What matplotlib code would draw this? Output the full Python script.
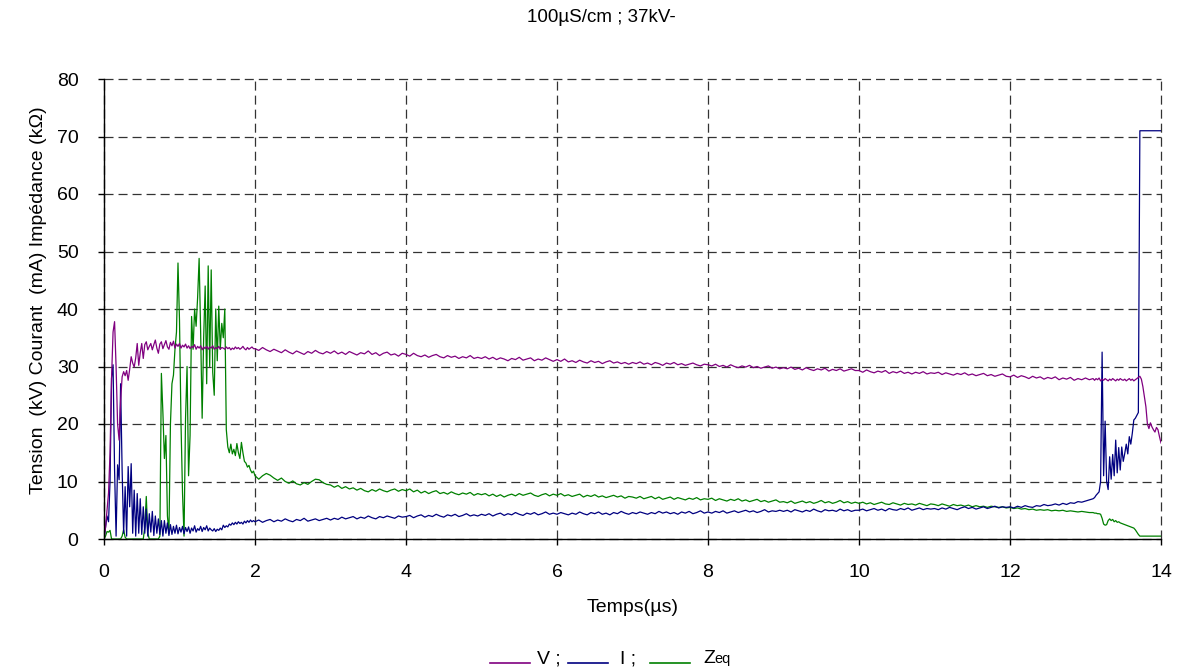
import numpy as np
import matplotlib
matplotlib.use("Agg")
import matplotlib.pyplot as plt
from matplotlib.lines import Line2D

plt.rcParams['font.family'] = ['Liberation Sans', 'DejaVu Sans']
plt.rcParams['lines.scale_dashes'] = False

# ---------------- data ----------------
# sampling grids (µs)
t_early = np.linspace(0.0, 1.98, 100)
t_late = np.linspace(2.0, 13.1, 223)
t_end = np.linspace(13.12, 14.0, 45)

v_early = [0, 2, 5, 8, 15, 28, 36, 37.8, 30, 20,
           17.2, 24, 28.2, 29.1, 28.4, 29.3, 27.6, 29.5, 31.7, 30.6,
           29.9, 31.5, 34.0, 30.2, 32.4, 34.0, 31.4, 33.8, 34.3, 32.9,
           33.5, 34.0, 32.9, 33.8, 34.6, 33.2, 32.3, 33.9, 34.3, 33.1,
           33.8, 34.5, 33.4, 33.0, 34.2, 33.6, 34.4, 33.2, 33.9, 33.5,
           34.0, 33.2, 33.7, 33.4, 33.9, 33.2, 33.6, 33.1, 33.5, 33.3,
           33.8, 33.0, 33.5, 33.2, 33.6, 32.9, 33.4, 33.1, 33.5, 33.0,
           33.4, 33.2, 33.6, 33.0, 33.3, 33.1, 33.5, 33.0, 33.3, 33.2,
           33.0, 33.4, 33.1, 33.3, 32.9, 33.2, 33.0, 33.4, 33.1, 33.3,
           33.0, 33.2, 33.5, 33.1, 32.9, 33.3, 33.0, 33.2, 33.4, 33.1]

i_early = [0, 2, 4, 3, 10, 28, 30.3, 12, 0.5, 12.9,
           10.3, 27, 12, 1, 9.1, 0.5, 12.6, 5.6, 13.1, 1,
           8.5, 0.5, 7.9, 1, 7, 0.8, 5.6, 1, 5.2, 0.5,
           4.4, 1.2, 4.8, 0.6, 4, 1, 3.5, 0.8, 3.2, 0.5,
           3.2, 1, 2.8, 0.6, 2.5, 0.8, 2.2, 1, 2.4, 0.9,
           2, 1.2, 2.2, 0.9, 2, 1.3, 2.1, 1, 1.9, 1.4,
           2.3, 1.2, 1.8, 1.5, 2.2, 1.3, 2, 1.6, 2.3, 1.4,
           1.9, 1.6, 1.4, 1.8, 1.3, 1.7, 1.5, 1.9, 1.6, 2.4,
           2.0, 2.3, 2.1, 2.6, 2.4, 2.8, 2.5, 2.9, 2.6, 3.0,
           2.7, 2.9, 2.6, 3.1, 2.8, 3.2, 2.9, 3.3, 3.0, 3.2]

z_early = [0, 0.5, 1.3, 1.2, 1.5, 0, 0, 0, 0, 0,
           0, 0, 0.5, 1.6, 0.3, 0, 0, 0, 0, 0,
           0, 0, 0, 0, 0, 0, 0, 2, 7.4, 1,
           0, 0, 0, 0, 0, 0, 0, 0.5, 28.8, 22,
           14, 18, 4, 1, 20, 27, 28.5, 33, 36, 48,
           38, 20, 8, 0.5, 21, 30, 11, 18, 38.7, 33,
           40, 37, 42, 48.8, 36, 21, 35, 44, 27, 47.5,
           30, 46.8, 29, 25, 40, 31, 40.5, 33, 37.5, 35,
           40, 19, 16, 15, 16.5, 14.8, 15.6, 14.5, 16.6, 15,
           14, 16.8, 15, 13.5, 13.2, 12.5, 12.8, 12, 11.5, 11.8]

v_late = [33.1, 32.8, 33.3, 32.9, 32.6, 33.0, 32.7, 32.4, 32.9, 32.5, 32.2, 32.7, 32.4, 32.1, 32.6, 32.3, 32.8, 32.4, 32.2, 32.6,
          32.3, 32.7, 32.2, 32.5, 32.1, 32.6, 32.3, 32.0, 32.4, 32.2, 32.7, 32.1, 32.4, 31.9, 32.3, 32.5, 32.0, 32.2, 31.8, 32.3,
          32.1, 31.8, 32.3, 31.9, 31.7, 32.0, 31.6, 31.9, 32.1, 31.7, 31.5, 31.9, 31.6, 31.8, 31.4, 31.7, 31.5, 31.9, 31.4, 31.6,
          31.4, 31.7, 31.3, 31.6, 31.2, 31.5, 31.3, 31.0, 31.4, 31.2, 31.6, 31.1, 31.3, 31.5, 31.0, 31.3, 31.1, 31.5, 31.2, 30.9,
          31.2, 30.9, 31.3, 30.8, 31.0, 30.7, 31.1, 30.8, 30.6, 31.0, 30.7, 30.9, 30.5, 30.8, 31.0, 30.6, 30.8, 30.5, 30.7, 30.4,
          30.7, 30.5, 30.8, 30.4, 30.6, 30.3, 30.7, 30.5, 30.2, 30.6, 30.4, 30.7, 30.3, 30.5, 30.2, 30.4, 30.6, 30.3, 30.1, 30.4,
          30.3, 30.1, 30.4, 30.0, 30.2, 29.9, 30.3, 30.0, 29.8, 30.1, 29.9, 30.2, 29.8, 30.0, 29.7, 29.9, 30.1, 29.7, 29.9, 29.6,
          29.8, 29.6, 29.9, 29.5, 29.7, 29.4, 29.8, 29.5, 29.3, 29.6, 29.4, 29.7, 29.2, 29.5, 29.3, 29.6, 29.2, 29.4, 29.6, 29.3,
          29.3, 29.0, 29.4, 29.1, 28.9, 29.2, 29.0, 29.3, 28.8, 29.1, 28.9, 29.2, 28.8, 29.0, 28.7, 29.0, 28.8, 29.1, 28.7, 28.9,
          28.8, 29.0, 28.6, 28.9, 28.7, 28.5, 28.8, 28.6, 28.9, 28.5, 28.7, 28.4, 28.6, 28.8, 28.4, 28.6, 28.3, 28.5, 28.7, 28.3,
          28.2, 28.5, 28.1, 28.4, 28.2, 27.9, 28.3, 28.0, 28.2, 27.8, 28.1, 27.9, 28.2, 27.7, 28.0, 27.8, 28.1, 27.6, 27.9, 27.7,
          28.0, 27.7, 27.9]

i_late = [3.0, 3.3, 2.9, 3.2, 3.4, 3.0, 3.3, 3.1, 3.5, 3.2, 3.0, 3.4, 3.2, 3.6, 3.1, 3.3, 3.5, 3.2, 3.4, 3.6,
          3.3, 3.6, 3.4, 3.8, 3.5, 3.7, 3.9, 3.5, 3.8, 3.6, 4.0, 3.7, 3.5, 3.9, 3.7, 4.0, 3.8, 3.6, 4.0, 3.8,
          3.9, 4.1, 3.7, 4.0, 4.2, 3.8, 4.1, 3.9, 4.3, 4.0, 3.8, 4.2, 4.0, 4.3, 3.9, 4.1, 4.4, 4.0, 4.2, 4.0,
          4.3, 4.1, 4.4, 4.0, 4.3, 4.5, 4.1, 4.4, 4.2, 4.6, 4.3, 4.1, 4.5, 4.3, 4.6, 4.2, 4.4, 4.7, 4.3, 4.5,
          4.3, 4.6, 4.4, 4.2, 4.5, 4.3, 4.7, 4.4, 4.2, 4.6, 4.4, 4.7, 4.3, 4.5, 4.2, 4.6, 4.4, 4.8, 4.5, 4.3,
          4.6, 4.4, 4.7, 4.5, 4.3, 4.6, 4.4, 4.8, 4.5, 4.7, 4.4, 4.6, 4.3, 4.7, 4.5, 4.8, 4.4, 4.6, 4.9, 4.5,
          4.7, 4.5, 4.8, 4.6, 4.9, 4.5, 4.7, 4.9, 4.6, 4.8, 5.0, 4.7, 4.9, 4.6, 4.8, 5.1, 4.7, 4.9, 4.8, 5.0,
          4.8, 5.0, 4.7, 5.1, 4.9, 4.7, 5.0, 4.8, 5.2, 4.9, 4.7, 5.1, 4.9, 5.0, 4.8, 5.2, 4.9, 5.1, 4.8, 5.0,
          5.0, 5.2, 4.9, 5.1, 5.3, 5.0, 5.2, 4.9, 5.3, 5.1, 5.0, 5.3, 5.1, 5.4, 5.0, 5.2, 5.4, 5.1, 5.3, 5.2,
          5.3, 5.1, 5.4, 5.2, 5.5, 5.3, 5.1, 5.4, 5.6, 5.3, 5.5, 5.2, 5.4, 5.6, 5.3, 5.5, 5.7, 5.4, 5.6, 5.5,
          5.6, 5.4, 5.7, 5.5, 5.8, 5.6, 5.5, 5.8, 5.7, 6.0, 5.8, 5.9, 6.1, 5.9, 6.2, 6.0, 6.3, 6.2, 6.5, 6.4,
          6.6, 6.8, 7.0]

z_late = [11.0, 10.4, 11.0, 11.4, 11.1, 10.6, 10.2, 10.6, 10.0, 9.7, 10.1, 9.6, 9.4, 9.8, 9.5, 10.0, 10.4, 10.3, 9.8, 9.5,
          9.4, 9.0, 9.3, 8.8, 9.1, 8.7, 8.9, 8.5, 8.8, 8.4, 8.2, 8.6, 8.3, 8.7, 8.4, 8.2, 8.5, 8.7, 8.3, 8.6,
          8.4, 8.7, 8.2, 8.5, 8.0, 8.3, 7.9, 8.2, 8.4, 7.9, 8.1, 7.8, 8.2, 7.9, 7.7, 8.0, 7.8, 8.1, 7.6, 7.9,
          7.7, 7.9, 7.5, 7.8, 7.4, 7.7, 7.3, 7.6, 7.8, 7.5, 7.9, 7.6, 7.8, 8.0, 7.6, 7.4, 7.7, 7.9, 7.5, 7.8,
          7.6, 7.9, 7.5, 7.7, 7.4, 7.6, 7.8, 7.3, 7.6, 7.4, 7.7, 7.3, 7.5, 7.2, 7.4, 7.6, 7.3, 7.5, 7.1, 7.4,
          7.3, 7.1, 7.4, 7.0, 7.2, 7.4, 7.0, 7.3, 6.9, 7.1, 7.3, 6.9, 7.2, 7.0, 6.8, 7.1, 6.9, 7.2, 6.8, 7.0,
          6.9, 7.1, 6.7, 7.0, 6.8, 6.6, 6.9, 6.7, 7.0, 6.6, 6.8, 6.5, 6.7, 6.9, 6.5, 6.7, 6.4, 6.6, 6.8, 6.4,
          6.5, 6.3, 6.6, 6.2, 6.4, 6.6, 6.3, 6.5, 6.2, 6.4, 6.7, 6.3, 6.5, 6.2, 6.4, 6.7, 6.3, 6.5, 6.2, 6.4,
          6.2, 6.4, 6.1, 6.3, 6.0, 6.2, 6.4, 6.1, 6.0, 6.3, 6.1, 5.9, 6.2, 6.0, 6.1, 5.9, 6.2, 6.0, 5.8, 6.1,
          6.0, 5.8, 6.1, 5.9, 5.7, 6.0, 5.8, 5.9, 5.7, 5.9, 5.6, 5.8, 5.6, 5.7, 5.5, 5.7, 5.6, 5.5, 5.6, 5.4,
          5.5, 5.3, 5.4, 5.2, 5.3, 5.1, 5.2, 5.0, 5.1, 5.0, 5.1, 4.9, 5.0, 4.9, 5.0, 4.8, 4.9, 4.8, 4.7, 4.8,
          4.7, 4.6, 4.6]

v_end = [27.6, 27.9, 27.7, 28.0, 27.5, 27.8, 27.6, 27.9, 27.7, 27.5,
         27.8, 27.6, 27.9, 27.7, 27.5, 27.8, 27.6, 27.9, 27.7, 27.6,
         27.8, 27.5, 27.7, 27.9, 27.6, 27.8, 27.5, 27.7, 27.9, 28.1,
         28.3, 27.8, 26.5, 24.8, 23.0, 20.0, 19.2, 20.2, 19.5, 19.0, 18.6, 19.4, 19.0, 17.8, 16.7]

i_end = [7.2, 7.6, 7.9, 8.2, 10.0, 32.5, 11.0, 20.5, 10.0, 8.6,
         14.3, 10.4, 14.7, 11.0, 17.2, 11.5, 15.9, 12.0, 16.0, 13.5,
         14.9, 16.5, 14.8, 17.8, 16.5, 18.4, 20.7, 21.0, 21.5, 22.0,
         71, 71, 71, 71, 71, 71, 71, 71, 71, 71, 71, 71, 71, 71, 71]

z_end = [4.5, 4.5, 4.4, 4.4, 4.3, 3.6, 2.6, 2.4, 2.5, 3.2,
         3.5, 3.2, 3.4, 3.0, 3.2, 2.9, 3.0, 2.8, 2.7, 2.6,
         2.5, 2.4, 2.3, 2.2, 2.1, 2.0, 1.9, 1.6, 1.2, 0.8,
         0.5, 0.5, 0.5, 0.5, 0.5, 0.5, 0.5, 0.5, 0.5, 0.5, 0.5, 0.5, 0.5, 0.5, 0.5]

x_ticks = [0, 2, 4, 6, 8, 10, 12, 14]
y_ticks = [0, 10, 20, 30, 40, 50, 60, 70, 80]

title = "100µS/cm ; 37kV-"
x_label = "Temps(µs)"
y_label = "Tension  (kV) Courant  (mA) Impédance (kΩ)"

c_v, c_i, c_z = '#800080', '#000080', '#008000'

# ---------------- figure ----------------
t = np.concatenate([t_early, t_late, t_end])
V = np.concatenate([v_early, v_late, v_end])
I = np.concatenate([i_early, i_late, i_end])
Z = np.concatenate([z_early, z_late, z_end])

W, H = 1179, 670
fig = plt.figure(figsize=(W / 100, H / 100), dpi=100)
ax = fig.add_axes([104 / W, (H - 539) / H, (1161 - 104) / W, (539 - 79) / H])

ax.plot(t, Z, color=c_z, lw=0.9, zorder=3)
ax.plot(t, I, color=c_i, lw=0.9, zorder=4)
ax.plot(t, V, color=c_v, lw=0.9, zorder=5)

ax.set_xlim(0, 14)
ax.set_ylim(0, 80)
ax.set_xticks(x_ticks)
ax.set_yticks(y_ticks)
ax.tick_params(axis='both', direction='out', length=4.3, width=1, labelsize=14, pad=14, color='black')
ax.grid(True, color='#333333', linestyle=(0, (6.5, 3.6)), linewidth=0.9, zorder=1)
for gl in ax.get_xgridlines() + ax.get_ygridlines():
    gl.set_clip_on(False)
for s in ['top', 'right']:
    ax.spines[s].set_visible(False)
for s in ['left', 'bottom']:
    ax.spines[s].set_linewidth(1.0)
    ax.spines[s].set_zorder(6)

fig.text(601 / W, (H - 18) / H, title, ha='center', va='center', fontsize=13.5)
fig.text(632.5 / W, (H - 608) / H, x_label, ha='center', va='center', fontsize=14)
fig.text(39 / W, (H - 300) / H, y_label, ha='center', va='center', rotation=90, fontsize=14)

# text-style legend
yb = (H - 663) / H
for (x0, x1, c) in [(490, 530, c_v), (568, 608, c_i), (650, 690, c_z)]:
    fig.add_artist(Line2D([x0 / W, x1 / W], [yb, yb], color=c, lw=1.2, transform=fig.transFigure))
fig.text(537 / W, yb, "V ;", ha='left', va='baseline', fontsize=14)
fig.text(620 / W, yb, "I ;", ha='left', va='baseline', fontsize=14)
fig.text(703 / W, yb, "Z", ha='left', va='baseline', fontsize=14)
fig.text(714 / W, yb, "eq", ha='left', va='baseline', fontsize=10.5)

fig.savefig("out.png", dpi=100)
